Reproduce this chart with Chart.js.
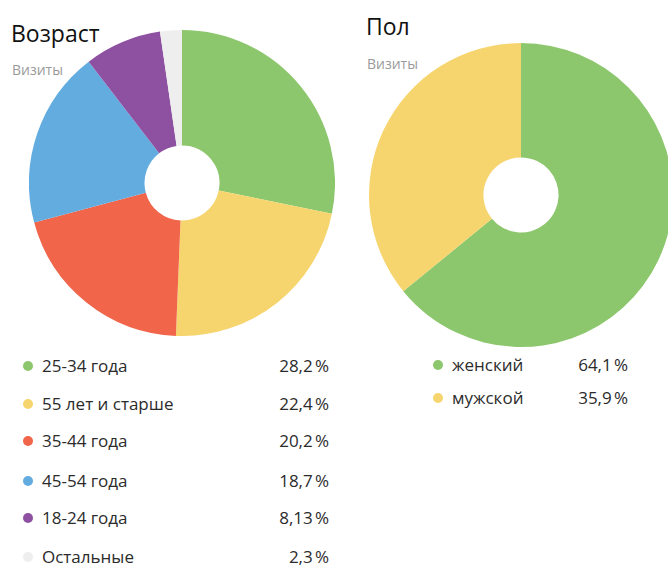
<!DOCTYPE html>
<html>
<head>
<meta charset="utf-8">
<script src="https://cdn.jsdelivr.net/npm/chart.js@4/dist/chart.umd.min.js"></script>
<style>
  html, body { margin: 0; padding: 0; background: #fff; }
  body { width: 668px; height: 566px; position: relative; overflow: hidden;
         font-family: "Open Sans", "Noto Sans", sans-serif; color: #2b2b2b; }
  .title { position: absolute; font-size: 23px; font-weight: 500; color: #111; }
  .sub { position: absolute; font-size: 14px; color: #9a9a9a; }
  .wrap { position: absolute; }
  .legend { position: absolute; font-size: 17px; }
  .row { position: absolute; left: 0; height: 20px; line-height: 20px; white-space: nowrap; }
  .dot { position: absolute; left: 0; top: 5px; width: 10px; height: 10px; border-radius: 50%; }
  .lbl { position: absolute; left: 19px; top: 0; }
  .val { position: absolute; right: 0; top: 0; }
</style>
</head>
<body>
<div class="title" style="left:11px; top:17px;">Возраст</div>
<div class="sub" style="left:12px; top:60px;">Визиты</div>
<div class="title" style="left:366px; top:10px;">Пол</div>
<div class="sub" style="left:367px; top:54px;">Визиты</div>

<div class="wrap" style="left:29px; top:30px; width:306px; height:306px;"><canvas id="age" width="306" height="306"></canvas></div>
<div class="wrap" style="left:369px; top:43px; width:304px; height:304px;"><canvas id="sex" width="304" height="304"></canvas></div>

<div class="legend" id="ageLegend" style="left:23px; top:356px; width:306px;"></div>
<div class="legend" id="sexLegend" style="left:433px; top:355px; width:195px;"></div>

<script>
// age groups
var ageLabels = ["25-34 года", "55 лет и старше", "35-44 года", "45-54 года", "18-24 года", "Остальные"];
var ageValues = [28.2, 22.4, 20.2, 18.7, 8.13, 2.3];
var ageText = ["28,2", "22,4", "20,2", "18,7", "8,13", "2,3"];
var ageColors = ["#8dc76d", "#f6d56f", "#f1654b", "#62acdf", "#8e51a2", "#eeeeee"];
var ageRowY = [0, 38, 75, 115, 152, 191];

// gender
var sexLabels = ["женский", "мужской"];
var sexValues = [64.1, 35.9];
var sexText = ["64,1", "35,9"];
var sexColors = ["#8dc76d", "#f6d56f"];
var sexRowY = [0, 33];

function makePie(id, labels, values, colors, cut) {
    var ctx = document.getElementById(id).getContext("2d");
    return new Chart(ctx, {
        type: "doughnut",
        data: {
            labels: labels,
            datasets: [{ data: values, backgroundColor: colors, borderWidth: 0 }]
        },
        options: {
            responsive: false,
            animation: false,
            cutout: cut,
            layout: { padding: 0 },
            plugins: { legend: { display: false }, tooltip: { enabled: false } }
        }
    });
}

function makeLegend(id, labels, text, colors, rows) {
    var el = document.getElementById(id);
    var html = "";
    for (var i = 0; i < labels.length; i++) {
        html += '<div class="row" style="top:' + rows[i] + 'px; width:100%;">' +
            '<span class="dot" style="background:' + colors[i] + '"></span>' +
            '<span class="lbl">' + labels[i] + '</span>' +
            '<span class="val">' + text[i] + '\u202F%</span></div>';
    }
    el.innerHTML = html;
}

makePie("age", ageLabels, ageValues, ageColors, "24.5%");
makePie("sex", sexLabels, sexValues, sexColors, "24.7%");
makeLegend("ageLegend", ageLabels, ageText, ageColors, ageRowY);
makeLegend("sexLegend", sexLabels, sexText, sexColors, sexRowY);
</script>
</body>
</html>
